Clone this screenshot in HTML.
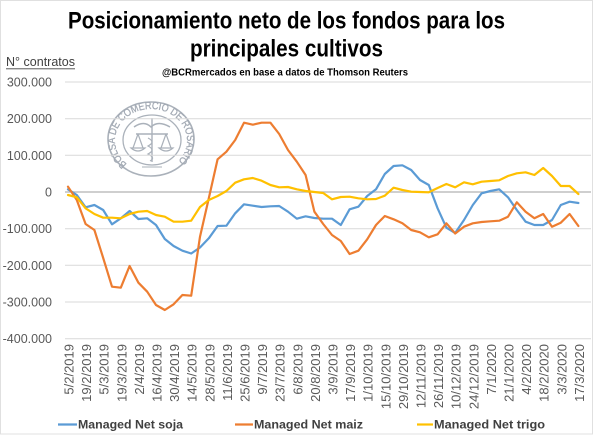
<!DOCTYPE html>
<html>
<head>
<meta charset="utf-8">
<style>
  html,body{margin:0;padding:0;background:#fff;}
  svg{display:block;}
</style>
</head>
<body>
<svg width="600" height="436" viewBox="0 0 600 436" xmlns="http://www.w3.org/2000/svg">
  <rect x="0" y="0" width="600" height="436" fill="#fff"/>
  <rect x="0.5" y="0.5" width="592" height="433.5" fill="none" stroke="#e0e0e0" stroke-width="1"/>

  <!-- Titles -->
  <g font-family="'Liberation Sans Narrow','Liberation Sans',sans-serif" font-weight="bold" fill="#000">
    <text x="68" y="28.5" font-size="24" textLength="437" lengthAdjust="spacingAndGlyphs">Posicionamiento neto de los fondos para los</text>
    <text x="190" y="56.5" font-size="24" textLength="193" lengthAdjust="spacingAndGlyphs">principales cultivos</text>
    <text x="162" y="75.3" font-size="10.5" textLength="246" lengthAdjust="spacingAndGlyphs">@BCRmercados en base a datos de Thomson Reuters</text>
  </g>

  <!-- N° contratos -->
  <text x="6" y="66" font-family="'Liberation Sans',sans-serif" font-size="12.5" fill="#404040" textLength="69" lengthAdjust="spacingAndGlyphs">N° contratos</text>
  <line x1="6" y1="68.8" x2="75" y2="68.8" stroke="#404040" stroke-width="0.9"/>

  <!-- Watermark seal -->
  <g stroke="#aab1ba" fill="none">
    <ellipse cx="151" cy="139" rx="43" ry="37" stroke-width="1.6"/>
    <ellipse cx="152" cy="140" rx="29" ry="25" stroke-width="1.3"/>
    <line x1="152" y1="118" x2="152" y2="162" stroke-width="1.4"/>
    <path d="M134 127 Q144 120 151 127 Q158 120 170 127" stroke-width="1.5"/>
    <line x1="136" y1="134" x2="168" y2="134" stroke-width="1.4"/>
    <path d="M138 134 L133 148 M138 134 L143 148 M131 148 Q138 154 145 148 Z" stroke-width="1.2"/>
    <path d="M166 134 L161 148 M166 134 L171 148 M159 148 Q166 154 173 148 Z" stroke-width="1.2"/>
    <path d="M148 138 Q156 142 148 146 Q156 150 148 154 Q156 158 150 161" stroke-width="1.2"/>
    <line x1="142" y1="167" x2="162" y2="167" stroke-width="0.9"/>
  </g>
  <defs>
    <path id="sealArc" d="M127 164 A36 31.5 0 1 1 175 164"/>
  </defs>
  <text font-family="'Liberation Sans',sans-serif" font-size="10.5" fill="#a3aab4" stroke="#a3aab4" stroke-width="0.3">
    <textPath href="#sealArc" textLength="156" lengthAdjust="spacingAndGlyphs">BOLSA DE COMERCIO DE ROSARIO</textPath>
  </text>

  <!-- Gridlines -->
  <g stroke="#d9d9d9" stroke-width="1">
    <line x1="65" y1="82" x2="591" y2="82"/>
    <line x1="65" y1="118.7" x2="591" y2="118.7"/>
    <line x1="65" y1="155.3" x2="591" y2="155.3"/>
    <line x1="65" y1="228.7" x2="591" y2="228.7"/>
    <line x1="65" y1="265.3" x2="591" y2="265.3"/>
    <line x1="65" y1="302" x2="591" y2="302"/>
    <line x1="65" y1="338.7" x2="591" y2="338.7"/>
  </g>
  <line x1="65" y1="192" x2="591" y2="192" stroke="#bfbfbf" stroke-width="1.4"/>

  <!-- Y labels -->
  <g font-family="'Liberation Sans',sans-serif" font-size="12.5" fill="#595959" text-anchor="end">
    <text x="52" y="86.5">300.000</text>
    <text x="52" y="123.2">200.000</text>
    <text x="52" y="159.8">100.000</text>
    <text x="52" y="196.5">0</text>
    <text x="52" y="233.2">-100.000</text>
    <text x="52" y="269.8">-200.000</text>
    <text x="52" y="306.5">-300.000</text>
    <text x="52" y="343.2">-400.000</text>
  </g>

  <!-- Series -->
  <g fill="none" stroke-width="2.2" stroke-linejoin="round" stroke-linecap="round">
    <polyline stroke="#5B9BD5" points="68,189.3 76.8,195 85.6,207.3 94.4,205 103.2,210 112,224.3 120.8,218.3 129.6,211 138.4,219 147.2,218.3 156,225 164.8,239 173.6,246 182.4,250.7 191.2,253.5 200,247.5 208.8,238.3 217.6,226 226.4,225.7 235.2,213.3 244,204.3 252.8,205.7 261.6,207 270.4,206.3 279.2,206 288,211.7 296.8,218.7 305.6,216.3 314.4,218 323.2,218.7 332,218.7 340.8,225 349.6,209.3 358.4,206.7 367.2,196 376,189.3 384.8,174 393.6,166 402.4,165.3 411.2,170 420,180 428.8,185 437.6,208.3 446.4,227.7 455.2,233 464,220 472.8,205 481.6,193.3 490.4,191 499.2,189.3 508,197.3 516.8,210 525.6,221.7 534.4,225 543.2,225 552,220 560.8,205 569.6,201.7 578.4,203"/>
    <polyline stroke="#ED7D31" points="68,186.7 76.8,200 85.6,224 94.4,230 103.2,258 112,286.7 120.8,287.7 129.6,266 138.4,282.7 147.2,291.7 156,305 164.8,310 173.6,304.3 182.4,295 191.2,295.7 200,236.7 208.8,198.3 217.6,159.3 226.4,151.7 235.2,140 244,122.7 252.8,124.7 261.6,122.7 270.4,122.7 279.2,134 288,150 296.8,161.7 305.6,175 314.4,211.7 323.2,224 332,235 340.8,241 349.6,254 358.4,250.7 367.2,239.3 376,225 384.8,216 393.6,219.3 402.4,223.3 411.2,230 420,232.3 428.8,237.3 437.6,234.3 446.4,223.3 455.2,233.5 464,226.7 472.8,223.3 481.6,222 490.4,221.3 499.2,220.7 508,216.7 516.8,202.3 525.6,211.7 534.4,218.3 543.2,214 552,226.7 560.8,222.7 569.6,214 578.4,226"/>
    <polyline stroke="#FFC000" points="68,195 76.8,197.3 85.6,208.3 94.4,214 103.2,217.7 112,217.7 120.8,218.3 129.6,214 138.4,211.7 147.2,211 156,215 164.8,216.7 173.6,221.7 182.4,221.7 191.2,220.7 200,207 208.8,200 217.6,196 226.4,191 235.2,182.7 244,179.3 252.8,178 261.6,180.7 270.4,185 279.2,187.3 288,187 296.8,189.3 305.6,191 314.4,192 323.2,193 332,199.3 340.8,197 349.6,196.7 358.4,198.3 367.2,199.3 376,199 384.8,195.7 393.6,187.7 402.4,190 411.2,191.7 420,192 428.8,192.3 437.6,188 446.4,184 455.2,187.3 464,182.3 472.8,184.3 481.6,181.7 490.4,181 499.2,180.3 508,176 516.8,173.3 525.6,172.3 534.4,175 543.2,168 552,176 560.8,186 569.6,186 578.4,194"/>
  </g>

  <!-- X labels -->
  <g font-family="'Liberation Sans',sans-serif" font-size="13" fill="#595959" text-anchor="end">
    <text transform="translate(73.5,344) rotate(-90)">5/2/2019</text>
    <text transform="translate(91.1,344) rotate(-90)">19/2/2019</text>
    <text transform="translate(108.7,344) rotate(-90)">5/3/2019</text>
    <text transform="translate(126.3,344) rotate(-90)">19/3/2019</text>
    <text transform="translate(143.9,344) rotate(-90)">2/4/2019</text>
    <text transform="translate(161.5,344) rotate(-90)">16/4/2019</text>
    <text transform="translate(179.1,344) rotate(-90)">30/4/2019</text>
    <text transform="translate(196.7,344) rotate(-90)">14/5/2019</text>
    <text transform="translate(214.3,344) rotate(-90)">28/5/2019</text>
    <text transform="translate(231.9,344) rotate(-90)">11/6/2019</text>
    <text transform="translate(249.5,344) rotate(-90)">25/6/2019</text>
    <text transform="translate(267.1,344) rotate(-90)">9/7/2019</text>
    <text transform="translate(284.7,344) rotate(-90)">23/7/2019</text>
    <text transform="translate(302.3,344) rotate(-90)">6/8/2019</text>
    <text transform="translate(319.9,344) rotate(-90)">20/8/2019</text>
    <text transform="translate(337.5,344) rotate(-90)">3/9/2019</text>
    <text transform="translate(355.1,344) rotate(-90)">17/9/2019</text>
    <text transform="translate(372.7,344) rotate(-90)">1/10/2019</text>
    <text transform="translate(390.3,344) rotate(-90)">15/10/2019</text>
    <text transform="translate(407.9,344) rotate(-90)">29/10/2019</text>
    <text transform="translate(425.5,344) rotate(-90)">12/11/2019</text>
    <text transform="translate(443.1,344) rotate(-90)">26/11/2019</text>
    <text transform="translate(460.7,344) rotate(-90)">10/12/2019</text>
    <text transform="translate(478.3,344) rotate(-90)">24/12/2019</text>
    <text transform="translate(495.9,344) rotate(-90)">7/1/2020</text>
    <text transform="translate(513.5,344) rotate(-90)">21/1/2020</text>
    <text transform="translate(531.1,344) rotate(-90)">4/2/2020</text>
    <text transform="translate(548.7,344) rotate(-90)">18/2/2020</text>
    <text transform="translate(566.3,344) rotate(-90)">3/3/2020</text>
    <text transform="translate(583.9,344) rotate(-90)">17/3/2020</text>
  </g>

  <!-- Legend -->
  <g stroke-width="2.2">
    <line x1="58" y1="424.5" x2="77" y2="424.5" stroke="#5B9BD5"/>
    <line x1="235" y1="424.5" x2="253" y2="424.5" stroke="#ED7D31"/>
    <line x1="417" y1="424.5" x2="433" y2="424.5" stroke="#FFC000"/>
  </g>
  <g font-family="'Liberation Sans',sans-serif" font-size="12" font-weight="bold" fill="#404040">
    <text x="78" y="428.5" textLength="105" lengthAdjust="spacingAndGlyphs">Managed Net soja</text>
    <text x="254" y="428.5" textLength="109" lengthAdjust="spacingAndGlyphs">Managed Net maiz</text>
    <text x="434" y="428.5" textLength="111" lengthAdjust="spacingAndGlyphs">Managed Net trigo</text>
  </g>
</svg>
</body>
</html>
